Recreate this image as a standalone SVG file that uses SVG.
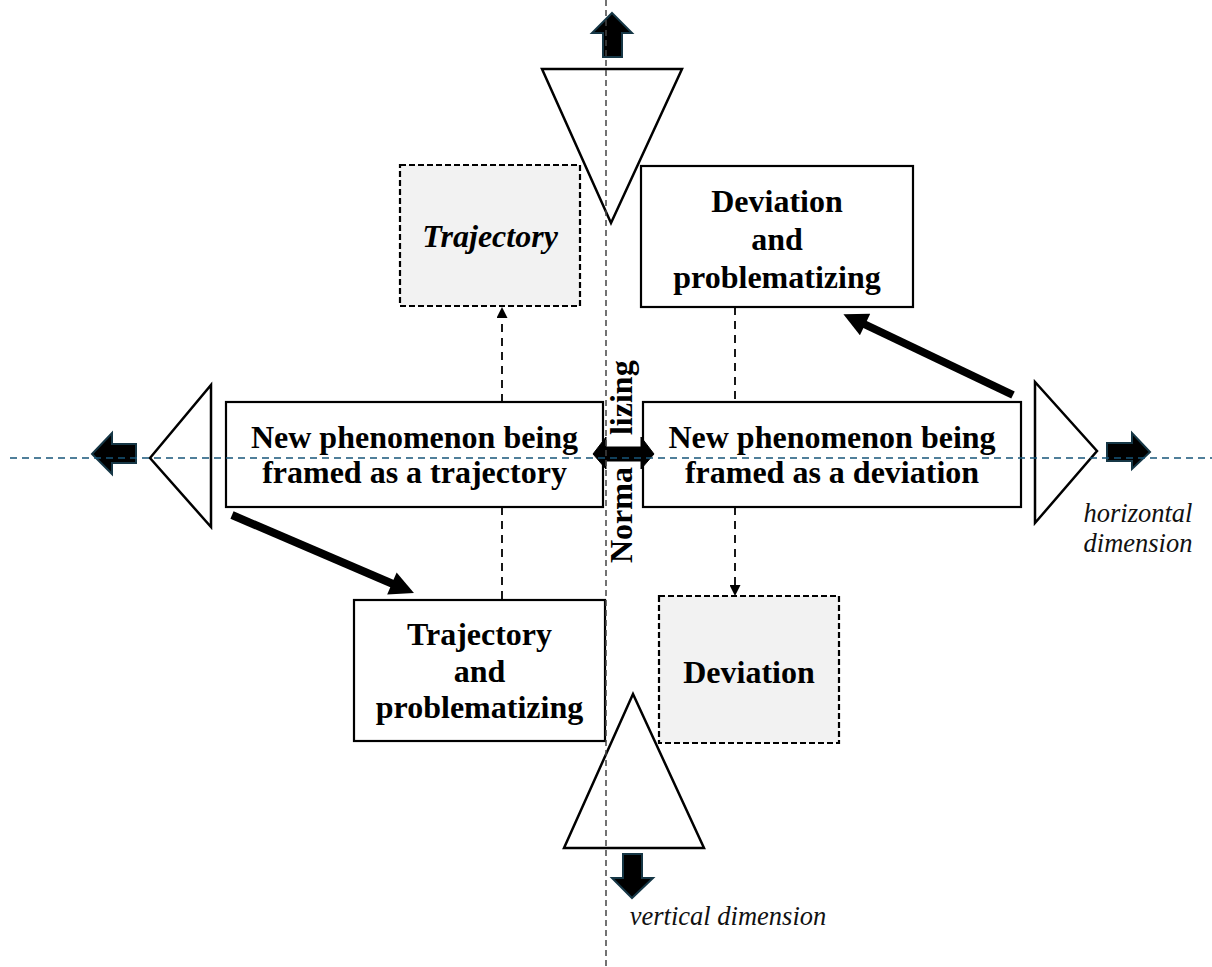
<svg xmlns="http://www.w3.org/2000/svg" width="1212" height="967" viewBox="0 0 1212 967">
<defs>
<style>
.box{fill:#ffffff;stroke:#000;stroke-width:2.2}
.dbox{fill:#f2f2f2;stroke:#000;stroke-width:2.2;stroke-dasharray:6 3}
.tri{fill:#ffffff;stroke:#000;stroke-width:2.5;stroke-linejoin:miter}
.blk{fill:#000;stroke:#163746;stroke-width:2;stroke-linejoin:miter}
.lbl{font-family:"Liberation Serif","Times New Roman",serif;font-weight:bold;font-size:32px;fill:#000;text-anchor:middle}
.it{font-family:"Liberation Serif","Times New Roman",serif;font-style:italic;font-size:26.5px;fill:#111;text-anchor:middle}
.dash{stroke:#000;stroke-width:1.8;stroke-dasharray:8 6;fill:none}
.thick{stroke:#000;stroke-width:8;fill:none}
</style>
<marker id="bigHead" viewBox="0 0 10 10" refX="0.5" refY="5" markerWidth="3.3" markerHeight="3" markerUnits="strokeWidth" orient="auto">
<path d="M0,0 L10,5 L0,10 z" fill="#000"/>
</marker>
<marker id="smallHead" viewBox="0 0 10 10" refX="0" refY="5" markerWidth="12" markerHeight="11" markerUnits="userSpaceOnUse" orient="auto">
<path d="M0,0 L10,5 L0,10 z" fill="#000"/>
</marker>
</defs>

<g id="triangles">
<polygon id="tri-top" class="tri" points="542,69 682,69 611,223"/>
<polygon id="tri-bottom" class="tri" points="633,694 564,848 704,848"/>
<polygon id="tri-left" class="tri" points="150,458 211,385 211,527"/>
<polygon id="tri-right" class="tri" points="1035,382 1035,523 1097,451"/>
</g>

<g id="node-trajectory">
<rect class="dbox" x="400" y="165" width="180" height="141"/>
<text class="lbl" x="490" y="247" font-style="italic">Trajectory</text>
</g>

<g id="node-dev-prob">
<rect class="box" x="641" y="166" width="272" height="141"/>
<text class="lbl" x="777" y="212">Deviation</text>
<text class="lbl" x="777" y="250">and</text>
<text class="lbl" x="777" y="288">problematizing</text>
</g>

<g id="node-new-trajectory">
<rect class="box" x="226" y="402" width="377" height="105"/>
<text class="lbl" x="414.5" y="448">New phenomenon being</text>
<text class="lbl" x="414.5" y="483">framed as a trajectory</text>
</g>

<g id="node-new-deviation">
<rect class="box" x="643" y="402" width="378" height="105"/>
<text class="lbl" x="832" y="448">New phenomenon being</text>
<text class="lbl" x="832" y="483">framed as a deviation</text>
</g>

<g id="node-traj-prob">
<rect class="box" x="354" y="600" width="251" height="141"/>
<text class="lbl" x="479.5" y="645">Trajectory</text>
<text class="lbl" x="479.5" y="682">and</text>
<text class="lbl" x="479.5" y="718">problematizing</text>
</g>

<g id="node-deviation">
<rect class="dbox" x="659" y="596" width="180" height="147"/>
<text class="lbl" x="749" y="683">Deviation</text>
</g>

<g id="connectors">
<line class="dash" x1="502" y1="402" x2="502" y2="318" marker-end="url(#smallHead)"/>
<line class="dash" x1="502" y1="507" x2="502" y2="600"/>
<line class="dash" x1="735" y1="307" x2="735" y2="402"/>
<line class="dash" x1="735" y1="507" x2="735" y2="585" marker-end="url(#smallHead)"/>
<line class="thick" x1="232" y1="515" x2="393" y2="584" marker-end="url(#bigHead)"/>
<line class="thick" x1="1013" y1="395" x2="864" y2="324" marker-end="url(#bigHead)"/>
</g>

<g id="normalizing">
<text class="lbl" style="text-anchor:start" transform="translate(632,563) rotate(-90)">Norma<tspan dx="32">lizing</tspan></text>
<polygon fill="#000" stroke="#000" stroke-width="1" points="593,454 606,437 606,447 641,447 641,437 654,454 641,469 641,461 606,461 606,469"/>
</g>

<g id="dimension-arrows">
<polygon id="arrow-up" class="blk" points="612,13 632,33 622,33 622,57 603,57 603,33 592,33"/>
<polygon id="arrow-down" class="blk" points="623,854 642,854 642,878 653,878 632,898 612,878 623,878"/>
<polygon id="arrow-left" class="blk" points="92,454 112,433 112,444 136,444 136,463 112,463 112,474"/>
<polygon id="arrow-right" class="blk" points="1107,443 1132,443 1132,433 1150,452 1132,469 1132,461 1107,461"/>
</g>

<g id="axes">
<line x1="10" y1="458" x2="1212" y2="458" stroke="#17567a" stroke-width="1.3" stroke-dasharray="7 5"/>
<line x1="606" y1="0" x2="606" y2="967" stroke="#444" stroke-width="1.5" stroke-dasharray="6 4"/>
</g>

<g id="axis-labels">
<text class="it" x="1138" y="522">horizontal</text>
<text class="it" x="1138" y="552">dimension</text>
<text class="it" x="728" y="925">vertical dimension</text>
</g>
</svg>
